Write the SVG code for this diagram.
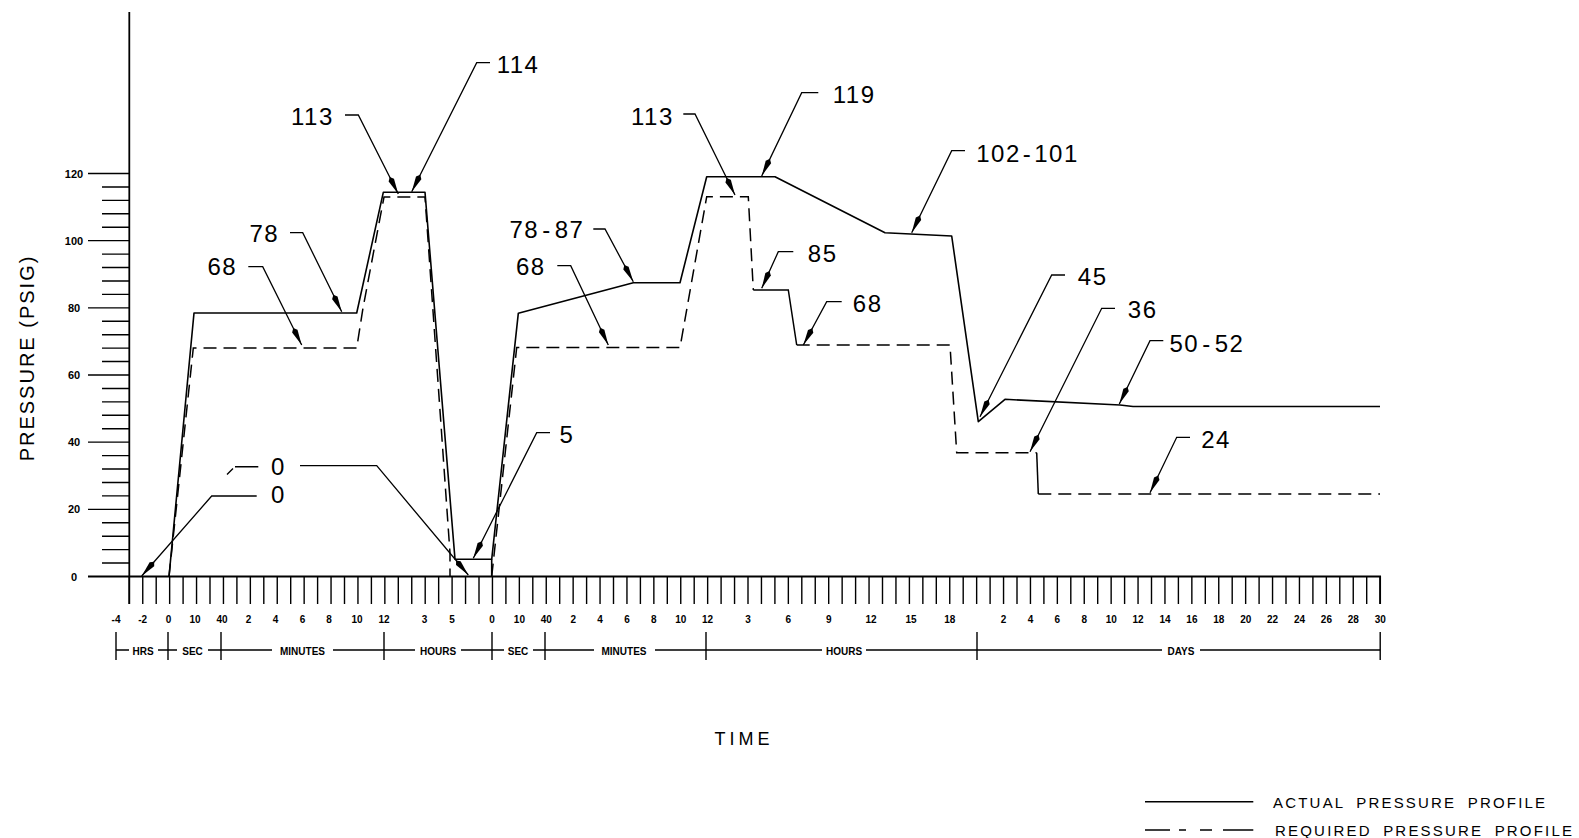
<svg xmlns="http://www.w3.org/2000/svg" width="1579" height="838" viewBox="0 0 1579 838">
<defs>
<style>
.ax{stroke:#000;stroke-width:1.8;fill:none}
.tk{stroke:#000;stroke-width:1.4;fill:none}
.act{stroke:#000;stroke-width:1.6;fill:none;stroke-linejoin:round}
.req{stroke:#000;stroke-width:1.5;fill:none;stroke-dasharray:13 7}
.reqs{stroke:#000;stroke-width:1.5;fill:none}
.ld{stroke:#000;stroke-width:1.3;fill:none;marker-end:url(#ah)}
.num{font-family:"Liberation Sans",Arial,sans-serif;font-size:24px;letter-spacing:1.5px;fill:#000}
.tl{font-family:"Liberation Sans",Arial,sans-serif;font-size:10px;font-weight:bold;text-anchor:middle;fill:#000}
.yl{font-family:"Liberation Sans",Arial,sans-serif;font-size:11px;font-weight:bold;text-anchor:middle;fill:#000}
.bl{font-family:"Liberation Sans",Arial,sans-serif;font-size:10px;font-weight:bold;text-anchor:middle;fill:#000}
.ttl{font-family:"Liberation Sans",Arial,sans-serif;fill:#000}
.lg{font-family:"Liberation Sans",Arial,sans-serif;font-size:15px;letter-spacing:2.2px;word-spacing:5px;fill:#000}
</style>
<marker id="ah" markerUnits="userSpaceOnUse" markerWidth="19" markerHeight="8" viewBox="0 0 19 8" refX="19" refY="4" orient="auto">
<path d="M0,4 L3.5,1 L19,4 L3.5,7 z" fill="#000"/>
</marker>
</defs>
<rect width="1579" height="838" fill="#fff"/>

<g id="y-axis">
<path class="ax" d="M129.3 12V604"/>
<path class="tk" d="M88 509.33h41 M88 442.17h41 M88 375h41 M88 307.83h41 M88 240.67h41 M88 173.5h41"/>
<path class="tk" d="M102 563.07h27 M102 549.63h27 M102 536.2h27 M102 522.77h27 M102 495.9h27 M102 482.47h27 M102 469.03h27 M102 455.6h27 M102 428.73h27 M102 415.3h27 M102 401.87h27 M102 388.43h27 M102 361.57h27 M102 348.13h27 M102 334.7h27 M102 321.27h27 M102 294.4h27 M102 280.97h27 M102 267.53h27 M102 254.1h27 M102 227.23h27 M102 213.8h27 M102 200.37h27 M102 186.93h27"/>
<text class="yl" x="74" y="580.5">0</text>
<text class="yl" x="74" y="513.3">20</text>
<text class="yl" x="74" y="446.2">40</text>
<text class="yl" x="74" y="379">60</text>
<text class="yl" x="74" y="311.8">80</text>
<text class="yl" x="74" y="244.7">100</text>
<text class="yl" x="74" y="177.5">120</text>
<text class="ttl" font-size="20" letter-spacing="2" text-anchor="middle" transform="translate(34,358) rotate(-90)">PRESSURE (PSIG)</text>
</g>

<g id="x-axis">
<path class="ax" d="M88 576.5H1380.15V604"/>
<path class="tk" d="M129.3 576.5v27.5
m13.45-27.5v27.5m13.45-27.5v27.5m13.45-27.5v27.5m13.45-27.5v27.5m13.45-27.5v27.5m13.45-27.5v27.5m13.45-27.5v27.5m13.45-27.5v27.5m13.45-27.5v27.5m13.45-27.5v27.5
m13.45-27.5v27.5m13.45-27.5v27.5m13.45-27.5v27.5m13.45-27.5v27.5m13.45-27.5v27.5m13.45-27.5v27.5m13.45-27.5v27.5m13.45-27.5v27.5m13.45-27.5v27.5m13.45-27.5v27.5
m13.45-27.5v27.5m13.45-27.5v27.5m13.45-27.5v27.5m13.45-27.5v27.5m13.45-27.5v27.5m13.45-27.5v27.5m13.45-27.5v27.5m13.45-27.5v27.5m13.45-27.5v27.5m13.45-27.5v27.5
m13.45-27.5v27.5m13.45-27.5v27.5m13.45-27.5v27.5m13.45-27.5v27.5m13.45-27.5v27.5m13.45-27.5v27.5m13.45-27.5v27.5m13.45-27.5v27.5m13.45-27.5v27.5m13.45-27.5v27.5
m13.45-27.5v27.5m13.45-27.5v27.5m13.45-27.5v27.5m13.45-27.5v27.5m13.45-27.5v27.5m13.45-27.5v27.5m13.45-27.5v27.5m13.45-27.5v27.5m13.45-27.5v27.5m13.45-27.5v27.5
m13.45-27.5v27.5m13.45-27.5v27.5m13.45-27.5v27.5m13.45-27.5v27.5m13.45-27.5v27.5m13.45-27.5v27.5m13.45-27.5v27.5m13.45-27.5v27.5m13.45-27.5v27.5m13.45-27.5v27.5
m13.45-27.5v27.5m13.45-27.5v27.5m13.45-27.5v27.5m13.45-27.5v27.5m13.45-27.5v27.5m13.45-27.5v27.5m13.45-27.5v27.5m13.45-27.5v27.5m13.45-27.5v27.5m13.45-27.5v27.5
m13.45-27.5v27.5m13.45-27.5v27.5m13.45-27.5v27.5m13.45-27.5v27.5m13.45-27.5v27.5m13.45-27.5v27.5m13.45-27.5v27.5m13.45-27.5v27.5m13.45-27.5v27.5m13.45-27.5v27.5
m13.45-27.5v27.5m13.45-27.5v27.5m13.45-27.5v27.5m13.45-27.5v27.5m13.45-27.5v27.5m13.45-27.5v27.5m13.45-27.5v27.5m13.45-27.5v27.5m13.45-27.5v27.5m13.45-27.5v27.5
m13.45-27.5v27.5m13.45-27.5v27.5m13.45-27.5v27.5"/>
<g class="tl">
<text x="116" y="623">-4</text>
<text x="142.7" y="623">-2</text>
<text x="168.5" y="623">0</text>
<text x="195" y="623">10</text>
<text x="222" y="623">40</text>
<text x="248.5" y="623">2</text>
<text x="275.5" y="623">4</text>
<text x="302.5" y="623">6</text>
<text x="329" y="623">8</text>
<text x="357" y="623">10</text>
<text x="384" y="623">12</text>
<text x="424.5" y="623">3</text>
<text x="452" y="623">5</text>
<text x="492" y="623">0</text>
<text x="519.4" y="623">10</text>
<text x="546.2" y="623">40</text>
<text x="573.2" y="623">2</text>
<text x="600" y="623">4</text>
<text x="627" y="623">6</text>
<text x="653.8" y="623">8</text>
<text x="680.8" y="623">10</text>
<text x="707.6" y="623">12</text>
<text x="748" y="623">3</text>
<text x="788.4" y="623">6</text>
<text x="828.7" y="623">9</text>
<text x="871" y="623">12</text>
<text x="911" y="623">15</text>
<text x="949.8" y="623">18</text>
<text x="1003.6" y="623">2</text>
<text x="1030.5" y="623">4</text>
<text x="1057.4" y="623">6</text>
<text x="1084.3" y="623">8</text>
<text x="1111.2" y="623">10</text>
<text x="1138.1" y="623">12</text>
<text x="1165" y="623">14</text>
<text x="1191.9" y="623">16</text>
<text x="1218.8" y="623">18</text>
<text x="1245.7" y="623">20</text>
<text x="1272.6" y="623">22</text>
<text x="1299.5" y="623">24</text>
<text x="1326.4" y="623">26</text>
<text x="1353.3" y="623">28</text>
<text x="1380.2" y="623">30</text>
</g>
</g>

<g id="time-scale">
<path class="tk" d="M116 632V660 M168 632V660 M221 632V660 M384 632V660 M492 632V660 M545 632V660 M706 632V660 M977 632V660 M1380.2 632V660"/>
<path class="tk" d="M116 650H129 M158 650H177 M208 650H272 M333 650H415 M461 650H504 M533 650H594 M655 650H822 M866 650H1162 M1200 650H1380.2"/>
<text class="bl" x="143" y="655">HRS</text>
<text class="bl" x="192.5" y="655">SEC</text>
<text class="bl" x="302.5" y="655">MINUTES</text>
<text class="bl" x="438" y="655">HOURS</text>
<text class="bl" x="518" y="655">SEC</text>
<text class="bl" x="624" y="655">MINUTES</text>
<text class="bl" x="844" y="655">HOURS</text>
<text class="bl" x="1181" y="655">DAYS</text>
<text class="ttl" font-size="18" letter-spacing="4" text-anchor="middle" x="744" y="745">TIME</text>
</g>

<g id="actual-profile">
<path class="act" d="M169 576.5 L194 313 L356.7 313 L383.3 192.3 L425 192.3 L455 559.3 L491.7 559.3 L518.3 313.3 L633.3 282.7 L680 282.7 L706.7 176.7 L775 176.7 L885 232.7 L951.7 236 L978.3 421.7 L1005 399.3 L1120 405 L1133 406.5 L1380 406.5"/>
<path class="act" d="M491.7 559.3V576.5"/>
</g>

<g id="required-profile">
<path class="req" d="M169 576.5 L193.3 348 L356.7 348 L363 308 L384 197 L425 197 L450 553 L450 576.5"/>
<path class="req" d="M491.7 576.5 L516.7 347.5 L680 347.5 L706.7 196.7 L748.3 196.7 L753.3 290"/>
<path class="reqs" d="M753.3 290 L788.3 290 L796.7 345"/>
<path class="req" d="M796.7 345 L950 345 L956.7 452.7 L1036.7 452.7"/>
<path class="reqs" d="M1036.7 452.7 L1038.3 494"/>
<path class="req" d="M1038.3 494 L1380 494"/>
</g>

<g id="callouts">
<g id="c114"><path class="ld" d="M490 62.7 L476.7 62.7 L411.7 191.7"/><text class="num" x="496.7" y="73">114</text></g>
<g id="c113a"><path class="ld" d="M345 115 L358.3 115 L398.3 194"/><text class="num" x="291" y="125">113</text></g>
<g id="c78"><path class="ld" d="M290 232.7 L302.7 232.7 L341.7 311.7"/><text class="num" x="249.5" y="241.5">78</text></g>
<g id="c68a"><path class="ld" d="M248.3 266.7 L262.7 266.7 L301.7 345"/><text class="num" x="207.5" y="275">68</text></g>
<g id="c0a"><path class="ld" d="M300 465.7 L376.7 465.7 L468.3 575"/><path class="tk" d="M258.3 466.7 L235 466.7 M233 468.6 L227 474.5" stroke-width="1.2"/><text class="num" x="271" y="475">0</text></g>
<g id="c0b"><path class="ld" d="M256.7 496 L211.7 496 L141.7 576"/><text class="num" x="271" y="503.3">0</text></g>
<g id="c5"><path class="ld" d="M550 432.7 L536.7 432.7 L473.3 558.3"/><text class="num" x="559.5" y="443.3">5</text></g>
<g id="c7887"><path class="ld" d="M593.3 229 L605 229 L633.3 281.7"/><text class="num" x="509.5" y="238.3">78<tspan dx="3">-</tspan><tspan dx="3">87</tspan></text></g>
<g id="c68b"><path class="ld" d="M557.3 265.7 L570.7 265.7 L608.3 345"/><text class="num" x="516" y="275">68</text></g>
<g id="c113b"><path class="ld" d="M683.3 114 L695 114 L735 195"/><text class="num" x="631" y="125">113</text></g>
<g id="c119"><path class="ld" d="M818.3 92.7 L801.7 92.7 L761.7 176"/><text class="num" x="832.8" y="103.3">119</text></g>
<g id="c85"><path class="ld" d="M793.3 251.7 L778.3 251.7 L761.7 288.3"/><text class="num" x="807.8" y="261.7">85</text></g>
<g id="c68c"><path class="ld" d="M841.7 301.7 L826.7 301.7 L803.3 345"/><text class="num" x="852.8" y="311.7">68</text></g>
<g id="c102"><path class="ld" d="M965 150.7 L951.7 150.7 L911.7 232.7"/><text class="num" x="976.2" y="161.7">102<tspan dx="2">-</tspan><tspan dx="2">101</tspan></text></g>
<g id="c45"><path class="ld" d="M1065 275 L1051.7 275 L980 416.7"/><text class="num" x="1077.8" y="285">45</text></g>
<g id="c36"><path class="ld" d="M1115 308.3 L1101.7 308.3 L1030 451.7"/><text class="num" x="1127.8" y="318.3">36</text></g>
<g id="c5052"><path class="ld" d="M1163.3 340.7 L1150 340.7 L1119.3 404"/><text class="num" x="1169.5" y="351.7">50<tspan dx="3">-</tspan><tspan dx="3">52</tspan></text></g>
<g id="c24"><path class="ld" d="M1190 437.3 L1176.7 437.3 L1150 492.7"/><text class="num" x="1201.2" y="448.3">24</text></g>
</g>

<g id="legend">
<path class="reqs" d="M1145 801.7H1253.3"/>
<path class="reqs" d="M1145 830H1170 M1179 830H1186 M1200 830H1212 M1223 830H1253.3"/>
<text class="lg" x="1273" y="808">ACTUAL PRESSURE PROFILE</text>
<text class="lg" x="1275" y="836">REQUIRED PRESSURE PROFILE</text>
</g>
</svg>
